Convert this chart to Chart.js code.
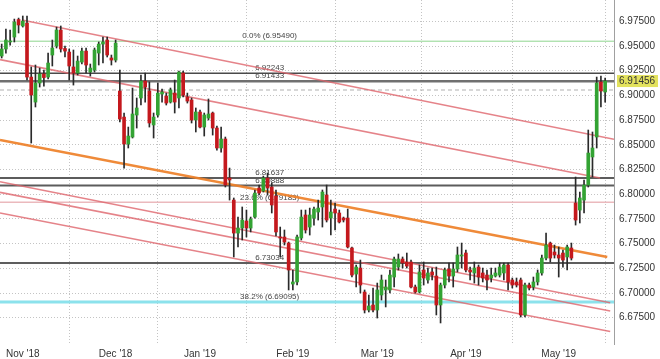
<!DOCTYPE html>
<html>
<head>
<meta charset="utf-8">
<script src="https://cdn.jsdelivr.net/npm/chart.js@4.4.1/dist/chart.umd.min.js"></script>
<style>
  html, body { margin: 0; padding: 0; background: #fff; }
  canvas { display: block; }
</style>
</head>
<body>
<canvas id="chart" width="660" height="359"></canvas>
<script>
// daily candles, Oct '18 .. mid May '19 (weekdays)
const opens = [
  6.9399, 6.9470, 6.9541, 6.9591, 6.9768, 6.9703, 6.9733, 6.9186, 6.8933, 6.9126,
  6.9217, 6.9186, 6.9409, 6.9500, 6.9662, 6.9475, 6.9439, 6.9288, 6.9227, 6.9338,
  6.9449, 6.9237, 6.9257, 6.9429, 6.9520, 6.9561, 6.9379, 6.9358, 6.9045, 6.8781,
  6.8508, 6.8579, 6.8802, 6.8974, 6.9146, 6.9045, 6.8701, 6.8802, 6.9014, 6.8994,
  6.8933, 6.9024, 6.8974, 6.9227, 6.8984, 6.8954, 6.8751, 6.8832, 6.8680, 6.8771,
  6.8822, 6.8670, 6.8468, 6.8559, 6.8164, 6.7941, 6.7607, 6.7658, 6.7729, 6.7658,
  6.7769, 6.8063, 6.8033, 6.8164, 6.8073, 6.7982, 6.7567, 6.7567, 6.7506, 6.7091,
  6.7112, 6.7557, 6.7790, 6.7668, 6.7759, 6.7820, 6.7871, 6.7992, 6.7759, 6.7850,
  6.7810, 6.7759, 6.7759, 6.7456, 6.7192, 6.7253, 6.7010, 6.6828, 6.6879, 6.6828,
  6.6980, 6.7031, 6.7031, 6.7162, 6.7263, 6.7344, 6.7314, 6.7314, 6.7061, 6.7010,
  6.7233, 6.7132, 6.7213, 6.7172, 6.6879, 6.7081, 6.7243, 6.7172, 6.7243, 6.7375,
  6.7405, 6.7233, 6.7203, 6.7263, 6.7203, 6.7182, 6.7152, 6.7172, 6.7182, 6.7203,
  6.7284, 6.7132, 6.7112, 6.7132, 6.6778, 6.7081, 6.7061, 6.7112, 6.7203, 6.7354,
  6.7506, 6.7415, 6.7385, 6.7405, 6.7365, 6.7456, 6.7911, 6.7840, 6.7941, 6.8093,
  6.8377, 6.8579, 6.9136, 6.9035
]
const highs = [
  6.9520, 6.9672, 6.9662, 6.9773, 6.9783, 6.9804, 6.9804, 6.9288, 6.9308, 6.9277,
  6.9257, 6.9429, 6.9561, 6.9692, 6.9703, 6.9500, 6.9470, 6.9460, 6.9399, 6.9480,
  6.9480, 6.9318, 6.9480, 6.9541, 6.9591, 6.9591, 6.9409, 6.9561, 6.9257, 6.8822,
  6.8680, 6.9075, 6.8974, 6.9207, 6.9227, 6.9136, 6.8822, 6.9126, 6.9065, 6.9024,
  6.9075, 6.9156, 6.9247, 6.9247, 6.9024, 6.8974, 6.8873, 6.8852, 6.8822, 6.8964,
  6.8832, 6.8690, 6.8680, 6.8579, 6.8265, 6.7962, 6.7769, 6.7871, 6.7840, 6.7769,
  6.8043, 6.8093, 6.8184, 6.8215, 6.8114, 6.8043, 6.7668, 6.7638, 6.7516, 6.7233,
  6.7587, 6.7840, 6.7840, 6.7860, 6.7871, 6.7941, 6.8043, 6.8093, 6.7941, 6.7911,
  6.7840, 6.7769, 6.7850, 6.7466, 6.7284, 6.7334, 6.7031, 6.6980, 6.7051, 6.7101,
  6.7182, 6.7132, 6.7233, 6.7365, 6.7395, 6.7365, 6.7405, 6.7334, 6.7081, 6.7284,
  6.7314, 6.7253, 6.7253, 6.7263, 6.7101, 6.7253, 6.7304, 6.7304, 6.7466, 6.7506,
  6.7435, 6.7263, 6.7314, 6.7284, 6.7253, 6.7233, 6.7253, 6.7253, 6.7304, 6.7304,
  6.7304, 6.7152, 6.7152, 6.7152, 6.7101, 6.7101, 6.7162, 6.7233, 6.7385, 6.7607,
  6.7516, 6.7486, 6.7466, 6.7435, 6.7486, 6.7506, 6.8174, 6.8022, 6.8144, 6.8650,
  6.8630, 6.9186, 6.9196, 6.9176
]
const lows = [
  6.9379, 6.9429, 6.9510, 6.9541, 6.9632, 6.9692, 6.9156, 6.8518, 6.8883, 6.9085,
  6.9095, 6.9166, 6.9298, 6.9480, 6.9439, 6.9389, 6.9156, 6.9105, 6.9207, 6.9318,
  6.9227, 6.9196, 6.9237, 6.9308, 6.9328, 6.9389, 6.9308, 6.9338, 6.8731, 6.8265,
  6.8468, 6.8569, 6.8670, 6.8903, 6.8933, 6.8680, 6.8569, 6.8781, 6.8933, 6.8903,
  6.8923, 6.8822, 6.8873, 6.8984, 6.8923, 6.8721, 6.8630, 6.8670, 6.8589, 6.8751,
  6.8599, 6.8447, 6.8427, 6.8073, 6.7941, 6.7365, 6.7466, 6.7537, 6.7567, 6.7618,
  6.7759, 6.7992, 6.8022, 6.7992, 6.7810, 6.7577, 6.7365, 6.7486, 6.7031, 6.7031,
  6.7081, 6.7537, 6.7607, 6.7587, 6.7688, 6.7739, 6.7668, 6.7719, 6.7587, 6.7638,
  6.7709, 6.7719, 6.7456, 6.7162, 6.7061, 6.7000, 6.6798, 6.6808, 6.6808, 6.6747,
  6.6929, 6.6859, 6.7000, 6.7061, 6.7233, 6.7253, 6.7253, 6.7051, 6.7000, 6.7000,
  6.7081, 6.7101, 6.7132, 6.6778, 6.6697, 6.7051, 6.7112, 6.7061, 6.7213, 6.7253,
  6.7213, 6.7132, 6.7101, 6.7081, 6.7112, 6.7031, 6.7112, 6.7162, 6.7162, 6.7132,
  6.7031, 6.7051, 6.7061, 6.6757, 6.6757, 6.7031, 6.7031, 6.7081, 6.7182, 6.7334,
  6.7314, 6.7354, 6.7162, 6.7263, 6.7233, 6.7334, 6.7688, 6.7709, 6.7810, 6.8073,
  6.8174, 6.8468, 6.8883, 6.8933
]
const closes = [
  6.9470, 6.9561, 6.9551, 6.9743, 6.9713, 6.9753, 6.9186, 6.9004, 6.9126, 6.9217,
  6.9181, 6.9328, 6.9480, 6.9662, 6.9470, 6.9449, 6.9298, 6.9227, 6.9348, 6.9449,
  6.9308, 6.9277, 6.9460, 6.9520, 6.9541, 6.9409, 6.9358, 6.9530, 6.8761, 6.8508,
  6.8589, 6.8812, 6.8873, 6.9146, 6.9085, 6.8721, 6.8781, 6.9024, 6.9035, 6.8923,
  6.9055, 6.8933, 6.9237, 6.9004, 6.8943, 6.8751, 6.8832, 6.8680, 6.8802, 6.8812,
  6.8670, 6.8468, 6.8559, 6.8093, 6.8144, 6.7607, 6.7658, 6.7739, 6.7658, 6.7749,
  6.8012, 6.8012, 6.8164, 6.8063, 6.7891, 6.7618, 6.7557, 6.7516, 6.7233, 6.7112,
  6.7567, 6.7769, 6.7638, 6.7790, 6.7850, 6.7860, 6.8022, 6.7739, 6.7820, 6.7810,
  6.7719, 6.7739, 6.7466, 6.7182, 6.7263, 6.7081, 6.6828, 6.6869, 6.6828, 6.7031,
  6.7132, 6.7061, 6.7182, 6.7344, 6.7344, 6.7304, 6.7273, 6.7061, 6.7010, 6.7213,
  6.7152, 6.7203, 6.7182, 6.6879, 6.7081, 6.7233, 6.7172, 6.7243, 6.7385, 6.7385,
  6.7233, 6.7213, 6.7253, 6.7162, 6.7152, 6.7132, 6.7182, 6.7203, 6.7263, 6.7284,
  6.7112, 6.7081, 6.7081, 6.6778, 6.7081, 6.7051, 6.7112, 6.7203, 6.7354, 6.7486,
  6.7354, 6.7385, 6.7354, 6.7334, 6.7466, 6.7354, 6.7739, 6.7962, 6.8093, 6.8417,
  6.8468, 6.9126, 6.9045, 6.91456
]

const yTicks = [6.675, 6.700, 6.725, 6.750, 6.775, 6.800, 6.825, 6.850, 6.875, 6.900, 6.925, 6.950, 6.975]
const monthLabels = ["Nov '18", "Dec '18", "Jan '19", "Feb '19", "Mar '19", "Apr '19", "May '19"]
const monthAt = [5, 27, 47, 69, 89, 110, 132]

// horizontal levels (fibo + support/resistance)
const levelValues = [6.95490, 6.92243, 6.91433, 6.81637, 6.80888, 6.79183, 6.73034, 6.69095]
const levelLabels = ['0.0% (6.95490)', '6.92243', '6.91433', '6.81637', '6.80888', '23.6% (6.79183)', '6.73034', '38.2% (6.69095)']
const dashedLevel = 6.9055
const lastPrice = 6.91456

// trend lines: [candle index, price] pairs
const channelLines = [
  [[4.8, 6.9763], [145.1, 6.8557]],
  [[-0.4, 6.9363], [141.8, 6.8164]],
  [[-0.4, 6.8127], [144.2, 6.6902]],
  [[-0.4, 6.8019], [144.2, 6.6818]],
  [[-0.4, 6.7810], [144.2, 6.6610]]
]
const orangeLine = [[-0.4, 6.8549], [143.5, 6.7365]]

const xMin = -0.4
const xMax = 145.1

const levelColors = ['#8fd68f', '#4a4a4a', '#707070', '#5c5c5c', '#5c5c5c', '#ebb9bd', '#5e5e5e', '#8ce2ec']
const levelWidths = [1, 1.5, 2.5, 2, 2, 1.5, 2, 3]

Chart.defaults.font.family = '"Liberation Sans", Arial, sans-serif'
Chart.defaults.color = '#333'

const up = '#33a333'
const down = '#c4181d'
const candleColors = opens.map((o, i) => closes[i] >= o ? up : down)

const datasets = []
datasets.push({
  type: 'bar',
  data: opens.map((o, i) => ({ x: i, y: [o, closes[i]] })),
  backgroundColor: candleColors,
  barThickness: 3,
  minBarLength: 1,
  grouped: false,
  order: 0
})
datasets.push({
  type: 'bar',
  data: lows.map((l, i) => ({ x: i, y: [l, highs[i]] })),
  backgroundColor: '#2a2a2a',
  barThickness: 1,
  grouped: false,
  order: 1
})

const lineSet = (pts, color, width, dash, order) => ({
  type: 'line',
  data: pts.map(p => ({ x: p[0], y: p[1] })),
  borderColor: color,
  borderWidth: width,
  borderDash: dash || [],
  pointRadius: 0,
  fill: false,
  tension: 0,
  order: order
})

channelLines.forEach(pts => datasets.push(lineSet(pts, 'rgba(222, 100, 108, 0.8)', 1.6, null, 2)))
datasets.push(lineSet(orangeLine, 'rgba(238, 128, 40, 0.92)', 2.6, null, 2))
levelValues.forEach((v, i) => datasets.push(lineSet([[xMin, v], [xMax, v]], levelColors[i], levelWidths[i], null, 3)))
datasets.push(lineSet([[xMin, dashedLevel], [xMax, dashedLevel]], '#b0b0b0', 1, [4, 3], 3))

const levelText = {
  id: 'levelText',
  beforeDatasetsDraw(chart) {
    const { ctx, scales } = chart
    ctx.save()
    ctx.font = '8px "Liberation Sans", Arial, sans-serif'
    ctx.fillStyle = '#444'
    ctx.textAlign = 'center'
    ctx.textBaseline = 'bottom'
    const x = scales.x.getPixelForValue(63.5)
    levelValues.forEach((v, i) => {
      ctx.fillText(levelLabels[i], x, scales.y.getPixelForValue(v) - 1)
    })
    ctx.restore()
  }
}

const priceTag = {
  id: 'priceTag',
  afterDraw(chart) {
    const { ctx, chartArea, scales } = chart
    ctx.save()
    ctx.strokeStyle = '#a0a0a0'
    ctx.lineWidth = 1
    ctx.beginPath()
    ctx.moveTo(chartArea.right + 0.5, chartArea.top)
    ctx.lineTo(chartArea.right + 0.5, chartArea.bottom)
    ctx.stroke()
    const y = scales.y.getPixelForValue(lastPrice)
    ctx.fillStyle = '#e3e25e'
    ctx.fillRect(chartArea.right + 3, y - 6, 41, 12)
    ctx.fillStyle = '#333'
    ctx.font = '10px "Liberation Sans", Arial, sans-serif'
    ctx.textBaseline = 'middle'
    ctx.textAlign = 'left'
    ctx.fillText(lastPrice.toFixed(5), chartArea.right + 5, y + 0.5)
    ctx.restore()
  }
}

new Chart(document.getElementById('chart'), {
  type: 'bar',
  data: { datasets: datasets },
  options: {
    responsive: false,
    animation: false,
    layout: { padding: 0 },
    plugins: {
      legend: { display: false },
      tooltip: { enabled: false }
    },
    scales: {
      x: {
        type: 'linear',
        min: xMin,
        max: xMax,
        offset: false,
        grid: { color: '#c4c4c4', drawTicks: false },
        border: { display: false, dash: [1, 2] },
        afterBuildTicks: (scale) => { scale.ticks = monthAt.map(v => ({ value: v })) },
        afterFit: (scale) => {
          scale.height = 14
          scale.paddingLeft = 0
          scale.paddingRight = 0
        },
        ticks: {
          padding: 3,
          maxRotation: 0,
          autoSkip: false,
          font: { size: 10 },
          callback: (v) => monthLabels[monthAt.indexOf(v)]
        }
      },
      y: {
        position: 'right',
        min: 6.6474,
        max: 6.9966,
        grid: { color: '#c4c4c4', drawTicks: false },
        border: { display: false, dash: [1, 2] },
        afterBuildTicks: (scale) => { scale.ticks = yTicks.map(v => ({ value: v })) },
        afterFit: (scale) => {
          scale.width = 46
          scale.paddingTop = 0
          scale.paddingBottom = 0
        },
        ticks: {
          padding: 5,
          font: { size: 10 },
          callback: (v) => v.toFixed(5)
        }
      }
    }
  },
  plugins: [levelText, priceTag]
})
</script>
</body>
</html>
